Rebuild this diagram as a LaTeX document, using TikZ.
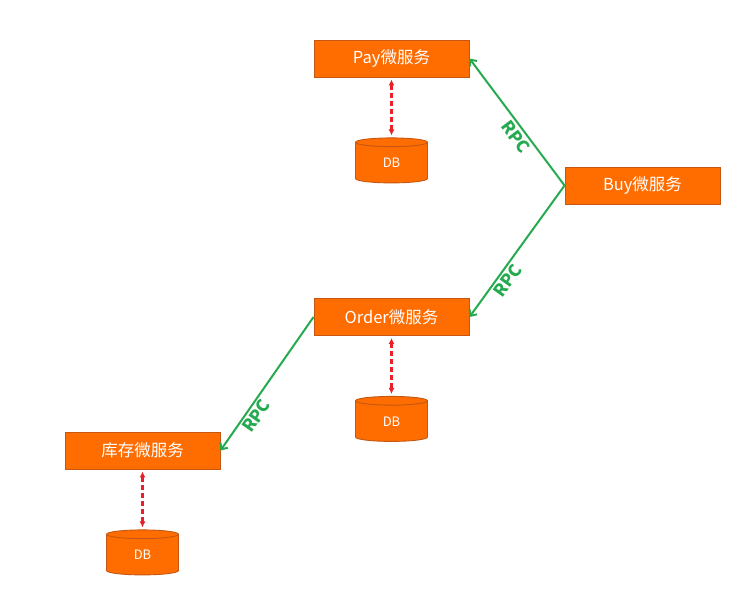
\documentclass[tikz,border=0pt]{standalone}
\usepackage{fontspec}
\setmainfont{Noto Sans CJK SC}
\usepackage{tikz}
\usetikzlibrary{shapes.geometric, arrows.meta, positioning}

\definecolor{svcfill}{RGB}{255,108,0}
\definecolor{svcline}{RGB}{196,88,18}
\definecolor{rpcgreen}{RGB}{38,170,80}
\definecolor{dbred}{RGB}{232,32,40}

\begin{document}
\begin{tikzpicture}[
    x=1pt, y=1pt,
    font=\fontsize{16.5}{19}\selectfont,
    node distance=60pt,
    base/.style={draw=svcline, line width=0.9pt, fill=svcfill, text=white, align=center, inner sep=0pt},
    service/.style={base, rectangle, minimum width=155pt, minimum height=37pt},
    db/.style={base, cylinder, shape border rotate=90, aspect=0.5, minimum width=72pt, minimum height=45pt, font=\fontsize{13}{15}\selectfont},
    rpc/.style={-{Straight Barb[length=5pt, width=9pt]}, draw=rpcgreen, line width=2pt},
    dblink/.style={{Latex[length=6pt, width=6pt]}-{Latex[length=6pt, width=6pt]}, draw=dbred, line width=2.4pt, dash pattern=on 5pt off 3pt, shorten <=2pt, shorten >=2pt},
    rpclabel/.style={sloped, below, inner sep=2pt, text=rpcgreen, font=\fontsize{17}{19}\selectfont\bfseries}
]
    \useasboundingbox (0,0) rectangle (749,-595);

    % --- 服务节点 ---
    \node [service] (pay)   at (391.5,-58.5) {Pay微服务};
    \node [service] (buy)   at (642.5,-185.5) {Buy微服务};
    \node [service] (order) at (391.5,-317) {Order微服务};
    \node [service] (stock) at (142.5,-450.5) {库存微服务};

    % --- 数据库 ---
    \node [db] (paydb)   [below=of pay] {DB};
    \node [db] (orderdb) [below=of order] {DB};
    \node [db] (stockdb) [below=of stock] {DB};

    % --- 服务与数据库 ---
    \draw [dblink] (pay) -- (paydb);
    \draw [dblink] (order) -- (orderdb);
    \draw [dblink] (stock) -- (stockdb);

    % --- RPC 调用 ---
    \draw [rpc] (buy.west) -- node[rpclabel, pos=0.43] {RPC} (pay.east);
    \draw [rpc] (buy.west) -- node[rpclabel, pos=0.68] {RPC} (order.east);
    \draw [rpc] (order.west) -- node[rpclabel, pos=0.70] {RPC} (stock.east);

\end{tikzpicture}
\end{document}
